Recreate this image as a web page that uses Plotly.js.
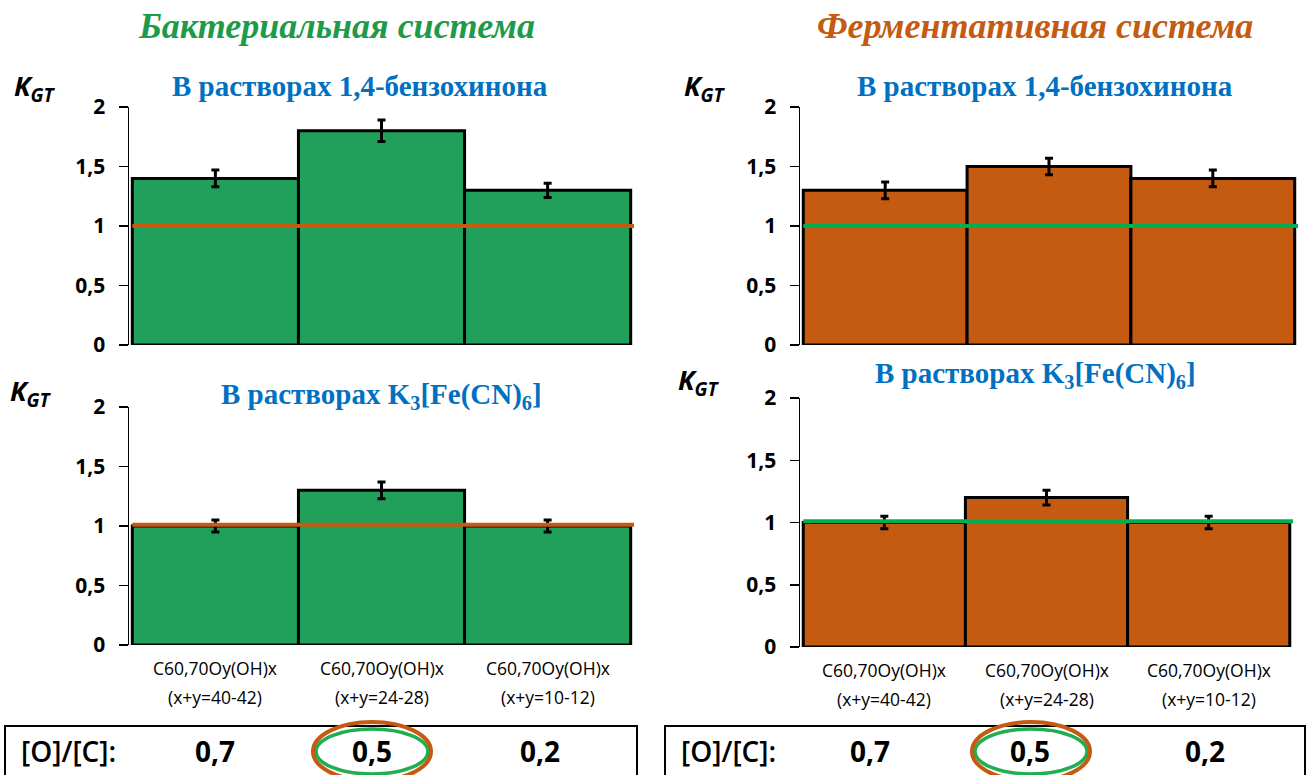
<!DOCTYPE html>
<html>
<head>
<meta charset="utf-8">
<script src="https://cdn.plot.ly/plotly-3.0.1.min.js"></script>
<style>html,body{margin:0;padding:0;background:#fff;}#chart{width:1315px;height:775px;}</style>
</head>
<body>
<div id="chart"></div>
<script>
// ---- data ----
const categoriesLine1 = ["C60,70Oy(OH)x", "C60,70Oy(OH)x", "C60,70Oy(OH)x"];
const categoriesLine2 = ["(x+y=40-42)", "(x+y=24-28)", "(x+y=10-12)"];
const catIndex = [0, 1, 2];

const bactBenzo = [1.4, 1.8, 1.3];
const bactBenzoErr = [0.07, 0.09, 0.06];
const bactFerri = [1.0, 1.3, 1.0];
const bactFerriErr = [0.05, 0.07, 0.05];
const enzBenzo = [1.3, 1.5, 1.4];
const enzBenzoErr = [0.07, 0.07, 0.07];
const enzFerri = [1.0, 1.2, 1.0];
const enzFerriErr = [0.05, 0.06, 0.05];

const controlLevel = [1.0, 1.01, 1.0, 1.01]; // TL, BL, TR, BR

const yTickVals = [0, 0.5, 1, 1.5, 2];
const yTickText = ["0", "0,5", "1", "1,5", "2"];

const ocLabel = "[O]/[C]:";
const ocValues = ["0,7", "0,5", "0,2"];

const mainTitles = ["Бактериальная система", "Ферментативная система"];
const subTitles = ["В растворах 1,4-бензохинона", "В растворах K<sub>3</sub>[Fe(CN)<sub>6</sub>]"];
const yLabel = "<b><i>K<sub>GT</sub></i></b>";

// ---- styles ----
const GREEN = "#21A05B";
const ORANGE = "#C55A11";
const LINE_GREEN = "#00B050";
const LINE_ORANGE = "#C55A11";
const BLUE = "#0070C0";
const W = 1315, H = 775;
const px = v => v / W;
const py = v => 1 - v / H;
const SANS = "Open Sans, Liberation Sans, sans-serif";
const SERIF = "Liberation Serif, Times New Roman, serif";

function barTrace(y, err, color, xa, ya) {
  return {
    type: "bar", x: catIndex, y: y, xaxis: xa, yaxis: ya, width: 1,
    marker: {color: color, line: {color: "#000", width: 3}},
    error_y: {type: "data", array: err, visible: true, color: "#000", thickness: 3, width: 4},
    hoverinfo: "skip", showlegend: false
  };
}

const data = [
  barTrace(bactBenzo, bactBenzoErr, GREEN, "x", "y"),
  barTrace(bactFerri, bactFerriErr, GREEN, "x2", "y2"),
  barTrace(enzBenzo, enzBenzoErr, ORANGE, "x3", "y3"),
  barTrace(enzFerri, enzFerriErr, ORANGE, "x4", "y4")
];

function xAxis(dom, anchor) {
  return {domain: dom, anchor: anchor, range: [-0.52, 2.52], showgrid: false, zeroline: false,
          showline: false, ticks: "", showticklabels: false, fixedrange: true};
}
function yAxis(dom, anchor) {
  return {domain: dom, anchor: anchor, range: [0, 2], showgrid: false, zeroline: false,
          showline: true, linecolor: "#000", linewidth: 1.5, ticks: "outside", ticklen: 9,
          tickwidth: 1.5, tickcolor: "#000", tickvals: yTickVals, ticktext: yTickText,
          ticklabelstandoff: 9,
          tickfont: {family: SANS, size: 21, color: "#000", weight: "bold"}};
}

const panels = [
  {xa: "x", ya: "y", xd: [px(129), px(634)], yd: [py(345), py(107)], line: LINE_ORANGE, labels: false},
  {xa: "x2", ya: "y2", xd: [px(129), px(634)], yd: [py(645), py(407)], line: LINE_ORANGE, labels: true},
  {xa: "x3", ya: "y3", xd: [px(800), px(1298)], yd: [py(345), py(107)], line: LINE_GREEN, labels: false},
  {xa: "x4", ya: "y4", xd: [px(800), px(1293)], yd: [py(647), py(398)], line: LINE_GREEN, labels: true}
];

const layout = {
  width: W, height: H, margin: {l: 0, r: 0, t: 0, b: 0},
  paper_bgcolor: "#fff", plot_bgcolor: "rgba(0,0,0,0)",
  bargap: 0, showlegend: false,
  shapes: [], annotations: []
};

panels.forEach((p, i) => {
  const n = i === 0 ? "" : String(i + 1);
  layout["xaxis" + n] = xAxis(p.xd, p.ya);
  layout["yaxis" + n] = yAxis(p.yd, p.xa);
  layout.shapes.push({type: "line", xref: p.xa, yref: p.ya, x0: -0.5, x1: 2.52,
    y0: controlLevel[i], y1: controlLevel[i], line: {color: p.line, width: 4}, layer: "above"});
  if (p.labels) {
    const bottomPx = H * (1 - p.yd[0]);
    catIndex.forEach(c => {
      layout.annotations.push({xref: p.xa, yref: "paper", x: c, y: py(bottomPx + 23),
        text: categoriesLine1[c], showarrow: false, xanchor: "center", yanchor: "middle",
        font: {family: SANS, size: 17.5, color: "#000"}});
      layout.annotations.push({xref: p.xa, yref: "paper", x: c, y: py(bottomPx + 52),
        text: categoriesLine2[c], showarrow: false, xanchor: "center", yanchor: "middle",
        font: {family: SANS, size: 17.5, color: "#000"}});
    });
  }
});

function ann(x, y, text, size, color, family) {
  layout.annotations.push({xref: "paper", yref: "paper", x: px(x), y: py(y), text: text,
    showarrow: false, xanchor: "center", yanchor: "middle",
    font: {family: family, size: size, color: color}});
}
// titles
ann(336, 26, "<b><i>" + mainTitles[0] + "</i></b>", 36, "#1E9B4A", SERIF);
ann(1035, 26, "<b><i>" + mainTitles[1] + "</i></b>", 36, ORANGE, SERIF);
ann(360, 86, "<b>" + subTitles[0] + "</b>", 29, BLUE, SERIF);
ann(1045, 86, "<b>" + subTitles[0] + "</b>", 29, BLUE, SERIF);
ann(381, 396, "<b>" + subTitles[1] + "</b>", 29, BLUE, SERIF);
ann(1035, 375, "<b>" + subTitles[1] + "</b>", 29, BLUE, SERIF);
// K_GT labels
[[35, 88], [705, 88], [31, 392], [699, 381]].forEach(([x, y]) => ann(x, y, yLabel, 27, "#000", SANS));

// [O]/[C] boxes
const boxes = [
  {x0: 5, x1: 637, labelX: 19, valX: [215, 372, 540], ell: 372},
  {x0: 665, x1: 1305, labelX: 679, valX: [870, 1030, 1205], ell: 1031}
];
boxes.forEach(b => {
  layout.shapes.push({type: "rect", xref: "paper", yref: "paper", x0: px(b.x0), x1: px(b.x1),
    y0: py(790), y1: py(726), line: {color: "#000", width: 2}, fillcolor: "rgba(0,0,0,0)"});
  layout.annotations.push({xref: "paper", yref: "paper", x: px(b.labelX), y: py(751), text: ocLabel,
    showarrow: false, xanchor: "left", yanchor: "middle",
    font: {family: SANS, size: 28, color: "#000", weight: 600}});
  ocValues.forEach((v, k) => ann(b.valX[k], 751, "<b>" + v + "</b>", 28, "#000", SANS));
  layout.shapes.push({type: "circle", xref: "paper", yref: "paper",
    x0: px(b.ell - 56), x1: px(b.ell + 56), y0: py(774), y1: py(729),
    line: {color: "#1FAE50", width: 3.5}});
  layout.shapes.push({type: "circle", xref: "paper", yref: "paper",
    x0: px(b.ell - 59), x1: px(b.ell + 59), y0: py(781), y1: py(722),
    line: {color: ORANGE, width: 4}});
});

Plotly.newPlot("chart", data, layout, {staticPlot: true, displayModeBar: false});
</script>
</body>
</html>
